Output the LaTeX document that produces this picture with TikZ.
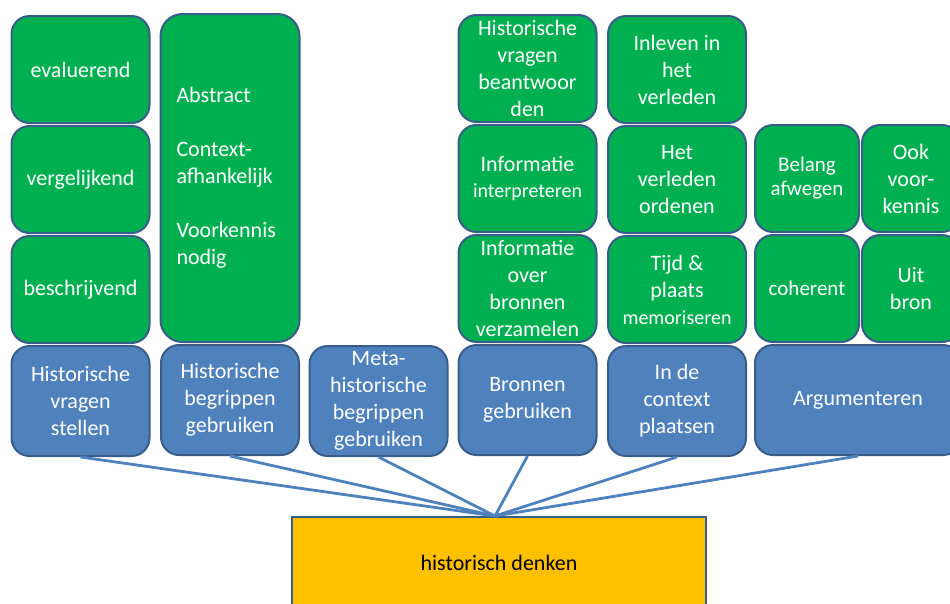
\documentclass[tikz,border=0pt]{standalone}
\usepackage{fontspec}
\setmainfont{Carlito}
\usetikzlibrary{positioning}
\definecolor{cGreen}{HTML}{00B050}
\definecolor{cBlue}{HTML}{4F81BD}
\definecolor{cEdge}{HTML}{385D8A}
\definecolor{cGold}{HTML}{FFC000}
\newcommand{\kl}{\fontsize{20}{26}\selectfont}
\begin{document}
\begin{tikzpicture}[
  x=1pt,y=-1pt,
  font=\fontsize{22}{27}\selectfont,
  box/.style={draw=cEdge,line width=2pt,rounded corners=18pt,text=white,align=center,
    minimum width=138pt,minimum height=107pt,inner sep=1pt},
  gbox/.style={box,fill=cGreen},
  bbox/.style={box,fill=cBlue,minimum height=110pt},
  link/.style={draw=cBlue,line width=2.8pt}
]
\clip (0,0) rectangle (950,603);
% skills row
\node[bbox] (s1) at (80.5,401) {Historische\\vragen\\stellen};
\node[bbox] (s2) at (230,400) {Historische\\begrippen\\gebruiken};
\node[bbox] (s3) at (378.5,401) {Meta-\\historische\\begrippen\\gebruiken};
\node[bbox] (s4) at (527.5,400) {Bronnen\\gebruiken};
\node[bbox] (s5) at (677,401) {In de\\context\\plaatsen};
\node[bbox,minimum width=206pt] (s6) at (858,400) {Argumenteren};
% stacks above the skills
\node[gbox,above=1pt of s1] (a1) {beschrijvend};
\node[gbox,above=1pt of a1] (a2) {vergelijkend};
\node[gbox,above=1pt of a2] (a3) {evaluerend};
\node[gbox,above=1pt of s2,minimum height=328pt,align=left,text width=107pt,
      inner xsep=16pt,rounded corners=22pt] (b1)
     {Abstract\\[27pt]Context-\\afhankelijk\\[27pt]Voorkennis\\nodig};
\node[gbox,above=1pt of s4] (d1) {Informatie\\over\\bronnen\\verzamelen};
\node[gbox,above=1pt of d1] (d2) {Informatie\\{\kl interpreteren}};
\node[gbox,above=1pt of d2] (d3) {Historische\\vragen\\beantwoor\\den};
\node[gbox,above=1pt of s5] (e1) {Tijd \&\\plaats\\{\kl memoriseren}};
\node[gbox,above=1pt of e1] (e2) {Het\\verleden\\ordenen};
\node[gbox,above=1pt of e2] (e3) {Inleven in\\het\\verleden};
\node[gbox,minimum width=104pt,anchor=south west,font=\fontsize{21}{24}\selectfont]
     (f1) at ([yshift=1pt]s6.north west) {coherent};
\node[gbox,minimum width=98pt,right=1pt of f1] (h1) {Uit\\bron};
\node[gbox,minimum width=104pt,above=1pt of f1,font=\fontsize{21}{24}\selectfont] (f2) {Belang\\afwegen};
\node[gbox,minimum width=98pt,right=1pt of f2] (h2) {Ook\\voor-\\kennis};
% core
\node[draw=cEdge,line width=2pt,fill=cGold,minimum width=414pt,minimum height=92pt]
     (core) at (499,563) {historisch denken};
\coordinate (hub) at ([xshift=-4pt]core.north);
\foreach \s in {s1,s2,s3,s4,s5,s6}
  \draw[link] (\s.south) -- (hub);
\end{tikzpicture}
\end{document}
